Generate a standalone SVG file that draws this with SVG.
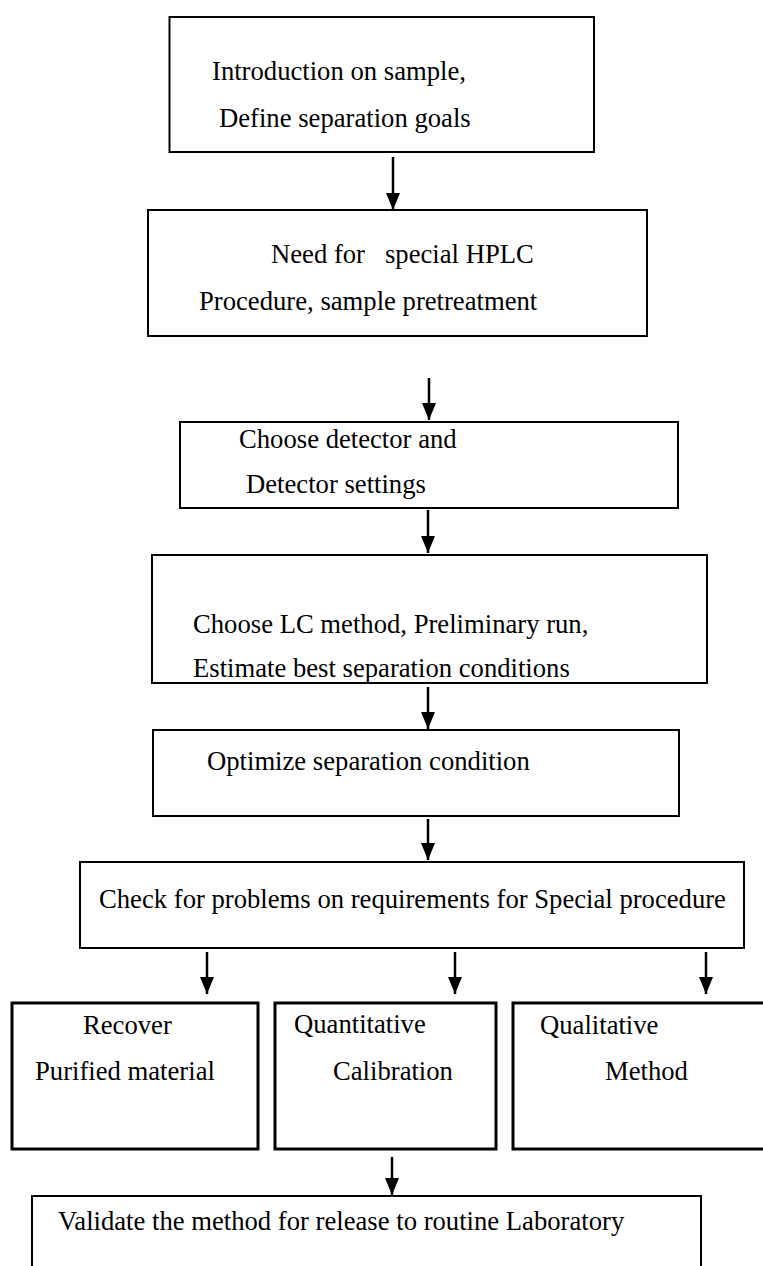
<svg xmlns="http://www.w3.org/2000/svg" width="763" height="1266" viewBox="0 0 763 1266">
<style>
.box{fill:#fff;stroke:#000;stroke-width:2}
.thick{stroke-width:3}
.t{font-family:"Liberation Serif","Times New Roman",serif;font-size:26.67px;fill:#000;white-space:pre}
.c{stroke:#000;stroke-width:2.5;fill:none}
</style>
<defs>
<marker id="ah" markerUnits="userSpaceOnUse" markerWidth="18" markerHeight="16" refX="17" refY="8" orient="auto" viewBox="0 0 18 16">
<path d="M0,1 L17,8 L0,15 Z" fill="#000"/>
</marker>
</defs>
<rect width="763" height="1266" fill="#fff"/>
<g id="node1"><rect class="box" x="169.5" y="17" width="424.5" height="135"/>
<text class="t" x="212" y="80">Introduction on sample,</text>
<text class="t" x="219" y="127">Define separation goals</text></g>
<g id="node2"><rect class="box" x="148" y="210" width="499" height="126"/>
<text class="t" x="271" y="263" xml:space="preserve">Need for   special HPLC</text>
<text class="t" x="199" y="310">Procedure, sample pretreatment</text></g>
<g id="node3"><rect class="box" x="180" y="422" width="498" height="86"/>
<text class="t" x="239" y="448">Choose detector and</text>
<text class="t" x="246" y="493">Detector settings</text></g>
<g id="node4"><rect class="box" x="152" y="555" width="555" height="128"/>
<text class="t" x="193" y="633">Choose LC method, Preliminary run,</text>
<text class="t" x="193" y="677">Estimate best separation conditions</text></g>
<g id="node5"><rect class="box" x="153" y="730" width="526" height="86"/>
<text class="t" x="207" y="770">Optimize separation condition</text></g>
<g id="node6"><rect class="box" x="80" y="862" width="664" height="86"/>
<text class="t" x="99" y="908">Check for problems on requirements for Special procedure</text></g>
<g id="nodeA"><rect class="box thick" x="12" y="1003" width="246" height="146"/>
<text class="t" x="83" y="1034">Recover</text>
<text class="t" x="35" y="1080">Purified material</text></g>
<g id="nodeB"><rect class="box thick" x="275" y="1003" width="221" height="146"/>
<text class="t" x="294" y="1033">Quantitative</text>
<text class="t" x="333" y="1080">Calibration</text></g>
<g id="nodeC"><rect class="box thick" x="513" y="1003" width="252" height="146"/>
<text class="t" x="540" y="1034">Qualitative</text>
<text class="t" x="605" y="1080">Method</text></g>
<g id="node7"><path d="M32,1268 L32,1196 L701,1196 L701,1268" fill="#fff" stroke="#000" stroke-width="2"/>
<text class="t" x="58" y="1230">Validate the method for release to routine Laboratory</text></g>
<g id="connectors">
<line class="c" x1="393" y1="157" x2="393" y2="210" marker-end="url(#ah)"/>
<line class="c" x1="429" y1="378" x2="429" y2="420" marker-end="url(#ah)"/>
<line class="c" x1="428" y1="510" x2="428" y2="553" marker-end="url(#ah)"/>
<line class="c" x1="428" y1="687" x2="428" y2="729" marker-end="url(#ah)"/>
<line class="c" x1="428" y1="819" x2="428" y2="860" marker-end="url(#ah)"/>
<line class="c" x1="207" y1="952" x2="207" y2="994" marker-end="url(#ah)"/>
<line class="c" x1="455" y1="952" x2="455" y2="994" marker-end="url(#ah)"/>
<line class="c" x1="706" y1="952" x2="706" y2="994" marker-end="url(#ah)"/>
<line class="c" x1="392" y1="1157" x2="392" y2="1195" marker-end="url(#ah)"/>
</g>
</svg>
